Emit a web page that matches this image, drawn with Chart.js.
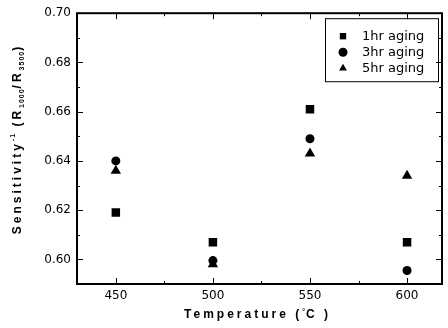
<!DOCTYPE html>
<html>
<head>
<meta charset="utf-8">
<script src="https://cdn.jsdelivr.net/npm/chart.js@4"></script>
<style>
  html, body { margin: 0; padding: 0; background: #fff; }
  #wrap { width: 448px; height: 328px; }
</style>
</head>
<body>
<div id="wrap"><canvas id="chart" width="448" height="328"></canvas></div>
<script>
const temps = [450, 500, 550, 600];
const aging1 = [0.619, 0.607, 0.661, 0.607];
const aging3 = [0.640, 0.5995, 0.649, 0.5955];
const aging5 = [0.636, 0.598, 0.643, 0.634];
const seriesLabels = ['1hr aging', '3hr aging', '5hr aging'];
const xLabels = [450, 500, 550, 600];

const pts = vals => temps.map((t, i) => ({ x: t, y: vals[i] }));

// frame + inward ticks on all four sides
const frameTicks = {
  id: 'frameTicks',
  afterDatasetsDraw(chart) {
    const { ctx, chartArea: a, scales } = chart;
    ctx.save();
    ctx.strokeStyle = '#000';
    ctx.lineWidth = 2;
    ctx.strokeRect(a.left, a.top, a.right - a.left, a.bottom - a.top);
    ctx.lineWidth = 1;
    ctx.beginPath();
    scales.x.ticks.forEach(t => {
      if (t.value % 25 !== 0) return;
      const len = t.value % 50 === 0 ? 6 : 3;
      const px = Math.round(scales.x.getPixelForValue(t.value)) + 0.5;
      ctx.moveTo(px, a.bottom); ctx.lineTo(px, a.bottom - len);
      ctx.moveTo(px, a.top); ctx.lineTo(px, a.top + len);
    });
    scales.y.ticks.forEach(t => {
      const h = Math.round(t.value * 100);
      if (h <= 59 || h >= 70) return;
      const len = h % 2 === 0 ? 6 : 3;
      const py = Math.round(scales.y.getPixelForValue(t.value)) + 0.5;
      ctx.moveTo(a.left, py); ctx.lineTo(a.left + len, py);
      ctx.moveTo(a.right, py); ctx.lineTo(a.right - len, py);
    });
    ctx.stroke();
    ctx.restore();
  }
};

// spaced bold axis titles with sub/superscripts
function drawRuns(ctx, runs, x, y) {
  let total = 0;
  runs.forEach(r => { ctx.font = r.font; ctx.letterSpacing = r.ls + 'px'; r.w = ctx.measureText(r.t).width; total += r.w; });
  let cx = x - total / 2;
  runs.forEach(r => {
    ctx.font = r.font; ctx.letterSpacing = r.ls + 'px';
    ctx.fillText(r.t, cx, y + (r.dy || 0));
    cx += r.w;
  });
}

const axisTitles = {
  id: 'axisTitles',
  afterDraw(chart) {
    const { ctx, chartArea: a } = chart;
    ctx.save();
    ctx.fillStyle = '#000';
    ctx.textBaseline = 'middle';
    ctx.textAlign = 'left';
    const big = 'bold 12px "Liberation Sans"';
    const small = 'bold 7px "Liberation Sans"';
    drawRuns(ctx, [
      { t: 'Temperature (', font: big, ls: 3 },
      { t: '°', font: small, ls: 1, dy: -3 },
      { t: 'C )', font: big, ls: 3 }
    ], (a.left + a.right) / 2 - 2, 315);
    ctx.translate(18, 139);
    ctx.rotate(-Math.PI / 2);
    drawRuns(ctx, [
      { t: 'Sensitivity', font: big, ls: 3 },
      { t: '-1', font: small, ls: 1, dy: -5 },
      { t: ' (R', font: big, ls: 3 },
      { t: '1000', font: small, ls: 1, dy: 4 },
      { t: '/R', font: big, ls: 3 },
      { t: '3500', font: small, ls: 1, dy: 4 },
      { t: ')', font: big, ls: 3 }
    ], 0, 0);
    ctx.restore();
  }
};

// boxed legend in the top-right corner
const boxLegend = {
  id: 'boxLegend',
  afterDraw(chart) {
    const { ctx, chartArea: a } = chart;
    const x0 = a.right - 117, y0 = a.top + 5, w = 113, h = 63;
    ctx.save();
    ctx.strokeStyle = '#000';
    ctx.lineWidth = 1;
    ctx.strokeRect(x0 + 0.5, y0 + 0.5, w, h);
    ctx.font = '13px "DejaVu Sans"';
    ctx.textBaseline = 'middle';
    chart.data.datasets.forEach((ds, i) => {
      const cy = y0 + 18 + i * 16;
      ctx.fillStyle = '#000';
      Chart.helpers.drawPoint(ctx, { pointStyle: ds.pointStyle, radius: 4.5, rotation: 0, borderWidth: 0 }, x0 + 18, cy);
      ctx.fillStyle = '#000';
      ctx.fillText(ds.label, x0 + 37, cy);
    });
    ctx.restore();
  }
};

new Chart(document.getElementById('chart'), {
  type: 'scatter',
  data: {
    datasets: [
      { label: seriesLabels[0], data: pts(aging1), pointStyle: 'rect', pointRadius: 6, backgroundColor: '#000', borderColor: '#000', borderWidth: 0 },
      { label: seriesLabels[1], data: pts(aging3), pointStyle: 'circle', pointRadius: 4.5, backgroundColor: '#000', borderColor: '#000', borderWidth: 0 },
      { label: seriesLabels[2], data: pts(aging5), pointStyle: 'triangle', pointRadius: 6, backgroundColor: '#000', borderColor: '#000', borderWidth: 0 }
    ]
  },
  options: {
    responsive: false,
    animation: false,
    layout: { padding: { left: 30, right: 4, top: 12, bottom: 26 } },
    plugins: { legend: { display: false }, tooltip: { enabled: false } },
    scales: {
      x: {
        type: 'linear', min: 430, max: 618,
        grid: { display: false, drawTicks: false },
        border: { display: false },
        afterFit: s => { s.height = 18; },
        ticks: {
          stepSize: 25, padding: 5, color: '#000', maxRotation: 0, autoSkip: false,
          font: { family: 'DejaVu Sans', size: 12 },
          callback: v => xLabels.includes(v) ? String(v) : ''
        }
      },
      y: {
        min: 0.59, max: 0.70,
        grid: { display: false, drawTicks: false },
        border: { display: false },
        afterFit: s => { s.width = 47; },
        ticks: {
          stepSize: 0.01, padding: 6, color: '#000', autoSkip: false,
          font: { family: 'DejaVu Sans', size: 12 },
          callback: v => { const h = Math.round(v * 100); return (h >= 60 && h % 2 === 0) ? (h / 100).toFixed(2) : ''; }
        }
      }
    }
  },
  plugins: [frameTicks, axisTitles, boxLegend]
});
</script>
</body>
</html>
